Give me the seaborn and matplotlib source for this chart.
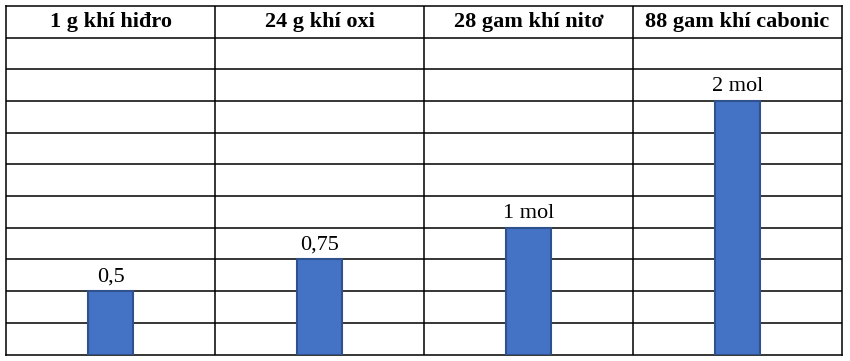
import matplotlib
matplotlib.use("Agg")
import matplotlib.pyplot as plt
import seaborn as sns
import pandas as pd
import numpy as np

categories = ["1 g khí hiđro", "24 g khí oxi", "28 gam khí nitơ", "88 gam khí cabonic"]
values = [0.5, 0.75, 1.0, 2.0]
value_labels = ["0,5", "0,75", "1 mol", "2 mol"]

df = pd.DataFrame({"cat": categories, "val": values})

sns.set_style("white")
plt.rcParams["font.family"] = ["Liberation Serif", "DejaVu Serif"]

fig = plt.figure(figsize=(8.5, 3.61), dpi=100)
W, H = 850, 361
left, right, top, bottom = 6, 842, 6, 354.5
ax = fig.add_axes([left / W, (H - bottom) / H, (right - left) / W, (bottom - top) / H])

sns.barplot(data=df, x="cat", y="val", ax=ax, color="#4472C4", width=0.215,
            edgecolor="#2F528F", linewidth=1.5, saturation=1, zorder=3)

ax.set_xlim(-0.5, len(categories) - 0.5)
ax.set_ylim(0, 2.75)
ax.set_axisbelow(True)

# table grid
for yv in np.arange(0.25, 2.75, 0.25):
    ax.axhline(yv, color="black", linewidth=1.1, zorder=1)
for xv in np.arange(0.5, len(categories) - 0.5, 1):
    ax.axvline(xv, color="black", linewidth=1.1, zorder=1)
for s in ax.spines.values():
    s.set_visible(True)
    s.set_color("black")
    s.set_linewidth(1.1)

ax.set_xticks([])
ax.set_yticks([])
ax.set_xlabel("")
ax.set_ylabel("")

# header row
for i, c in enumerate(categories):
    ax.text(i, 2.625, c, ha="center", va="center", fontsize=16, fontweight="bold",
            color="black")

# value labels
for i, (v, lab) in enumerate(zip(values, value_labels)):
    ax.annotate(lab, (i, v), xytext=(0, 7), textcoords="offset points",
                ha="center", va="baseline", fontsize=16, color="black")

fig.savefig("out.png", dpi=100)
